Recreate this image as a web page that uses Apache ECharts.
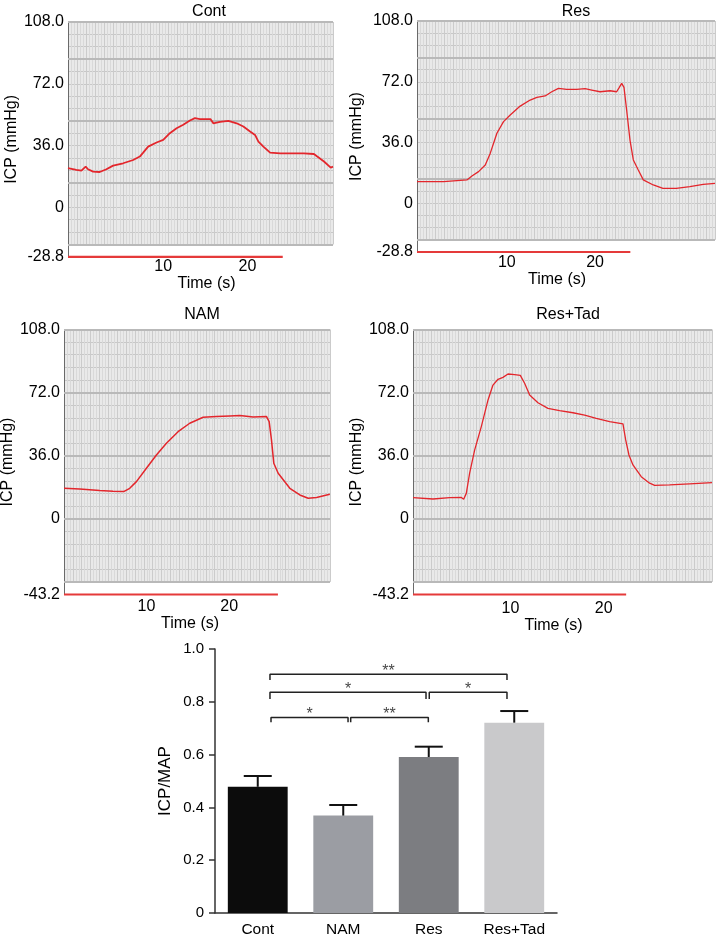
<!DOCTYPE html>
<html><head><meta charset="utf-8">
<script src="https://cdn.jsdelivr.net/npm/echarts@6/dist/echarts.min.js"></script>
<style>html,body{margin:0;padding:0;background:#fff}#c{width:717px;height:941px}</style>
</head><body><div id="c"></div>
<script>
// ---------------- DATA ----------------
const contTime = [-1.31,-0.32,0.28,0.79,1.07,1.67,2.46,3.25,4.05,5.24,6.43,7.22,7.62,8.21,9.21,10.0,10.79,11.59,12.38,13.17,13.77,14.36,15.15,15.63,15.95,16.75,17.74,18.73,19.52,20.32,20.91,21.31,21.9,22.7,23.9,25.5,26.7,27.9,28.3,29.1,29.9,30.17];
const contICP  = [22.8,21.8,21.4,23.7,22.2,20.8,20.6,22.2,24.3,25.7,27.6,29.6,31.9,35.4,37.8,39.3,43.2,46.1,48.1,50.6,52.0,51.4,51.4,51.4,49.0,49.8,50.4,49.0,47.1,44.2,42.2,38.3,35.4,31.9,31.5,31.5,31.5,31.1,29.6,26.7,23.2,23.7];

const resTime = [-0.19,2.83,5.47,6.04,6.79,7.55,8.11,8.87,9.62,10.38,11.51,12.64,13.4,14.34,15.09,15.85,16.79,17.92,18.87,19.62,20.57,21.7,22.45,22.75,23.02,23.28,23.58,23.96,24.34,24.9,25.47,26.6,27.7,29.2,30.75,32.26,33.6];
const resICP  = [12.9,12.9,13.9,16.2,18.8,22.7,29.6,41.5,48.4,52.3,57.6,61.2,62.8,63.6,66.1,68.1,67.5,67.5,67.9,67.1,66.1,66.7,66.1,68.7,71.1,68.7,55.3,37.5,25.7,19.8,13.9,10.9,8.9,8.9,9.9,11.3,11.9];

const namTime = [0.02,1.92,4.34,5.95,7.24,7.97,8.78,9.99,11.2,12.41,13.82,15.23,16.85,18.46,20.08,21.29,22.9,24.52,24.84,25.12,25.4,25.93,27.34,28.55,29.56,30.57,32.18];
const namICP  = [17.4,17.0,16.1,15.7,15.5,17.4,21.2,28.8,36.4,43.1,49.7,54.5,57.9,58.3,58.7,58.9,58.1,58.3,55.4,45.0,31.7,26.0,17.4,13.6,11.7,12.2,14.0];

const tadTime = [-0.44,1.70,3.49,4.74,4.99,5.27,5.63,6.17,6.88,7.60,8.13,8.67,9.2,9.74,10.45,11.06,11.52,12.06,12.95,14.02,15.27,16.7,17.95,19.2,20.63,22.06,22.35,22.7,23.13,24.02,24.92,25.45,27.06,29.2,31.6];
const tadICP  = [12.1,11.3,12.1,12.2,11.1,14.5,26.0,39.3,52.6,67.8,76.3,79.6,80.7,82.6,82.2,81.8,77.3,70.6,66.2,63.0,61.7,60.5,59.2,57.3,55.4,54.1,45.0,36.4,30.7,24.0,20.3,19.1,19.3,19.9,20.6];

const panelTitles = ['Cont','Res','NAM','Res+Tad'];
const yTickLabelsTop = [-28.8, 0, 36, 72, 108];
const yTickLabelsBottom = [-43.2, 0, 36, 72, 108];
const xTickLabels = [10, 20];
const timeBarEnds = [24.2, 24.0, 25.9, 22.4];

const barCategories = ['Cont','NAM','Res','Res+Tad'];
const barMeans = [0.478, 0.369, 0.591, 0.721];
const barUpper = [0.519, 0.409, 0.630, 0.765];
const barColors = ['#0c0c0c','#9b9da3','#7c7d81','#c9c9cb'];

const bracketStart = [0.143, 0.143, 2.006, 0.155, 1.087];
const bracketEnd   = [2.915, 1.968, 2.915, 1.056, 1.995];
const bracketY     = [0.904, 0.836, 0.836, 0.741, 0.741];
const bracketLegY  = [0.883, 0.811, 0.811, 0.723, 0.723];
const bracketText  = ['**', '*', '*', '*', '**'];

// ---------------- LAYOUT ----------------
const FONT = 'Liberation Sans, Arial, Helvetica, sans-serif';
const panels = [
  {time: contTime, icp: contICP, yMin: -28.8, labels: yTickLabelsTop, xMin: -1.31, xMax: 30.17,
   left: 68, top: 22, width: 265, bottom: 256.8, lw: 1.8, bgMax: 29,
   titleX: 209, titleY: 12, yGap: 48, xGap: 18, xShift: 6, lblMargin: 2},
  {time: resTime, icp: resICP, yMin: -28.8, labels: yTickLabelsTop, xMin: -0.19, xMax: 33.6,
   left: 417, top: 21, width: 298, bottom: 252, lw: 1.3, bgMax: 33,
   titleX: 576, titleY: 12, yGap: 52, xGap: 17, xShift: -9, lblMargin: 3},
  {time: namTime, icp: namICP, yMin: -43.2, labels: yTickLabelsBottom, xMin: 0.02, xMax: 32.2,
   left: 64, top: 329.5, width: 266, bottom: 594.5, lw: 1.5, bgMax: 30,
   titleX: 202, titleY: 315, yGap: 44, xGap: 17, xShift: -7, lblMargin: 4},
  {time: tadTime, icp: tadICP, yMin: -43.2, labels: yTickLabelsBottom, xMin: -0.44, xMax: 31.6,
   left: 413, top: 329.5, width: 299, bottom: 594.5, lw: 1.3, bgMax: 33,
   titleX: 568, titleY: 315, yGap: 48, xGap: 21, xShift: -9, lblMargin: 6}
];

const grid = [], xAxis = [], yAxis = [], series = [], graphic = [];
const hidden = {axisLine:{show:false}, axisTick:{show:false}, axisLabel:{show:false}};

panels.forEach((p, i) => {
  const h = p.bottom - p.top;
  const k = h / (108 - p.yMin);
  const bgBottomVal = p.yMin + 7.2;
  const bgBottomPx = p.bottom - 7.2 * k;
  // background chart-paper grid
  const gBg = grid.length;
  grid.push({left: p.left, top: p.top, width: p.width, height: bgBottomPx - p.top,
    show: true, backgroundColor: '#e9e9e9', borderWidth: 0, outerBoundsMode: 'none'});
  const xBg = xAxis.length;
  xAxis.push(Object.assign({type: 'value', gridIndex: gBg, min: 0, max: p.bgMax, interval: 1,
    splitLine: {show: true, lineStyle: {color: '#cbcbcb', width: 1}},
    minorTick: {show: false, splitNumber: 3},
    minorSplitLine: {show: true, lineStyle: {color: '#d9d9d9', width: 1}}, z: 0}, hidden));
  const yBg1 = yAxis.length;
  yAxis.push(Object.assign({type: 'value', gridIndex: gBg, min: bgBottomVal, max: 108, interval: 7.2,
    splitLine: {show: true, lineStyle: {color: '#c8c8c8', width: 1}}, z: 0}, hidden));
  const yBg2 = yAxis.length;
  yAxis.push(Object.assign({type: 'value', gridIndex: gBg, min: bgBottomVal, max: 108, interval: 36, position: 'right',
    splitLine: {show: true, lineStyle: {color: '#b9b9b9', width: 2}}, z: 1}, hidden));
  series.push({type: 'line', xAxisIndex: xBg, yAxisIndex: yBg1, data: [], silent: true});

  // data grid
  const gD = grid.length;
  grid.push({left: p.left, top: p.top, width: p.width, height: h, outerBoundsMode: 'none'});
  const xD = xAxis.length;
  xAxis.push({type: 'value', gridIndex: gD, min: p.xMin, max: p.xMax,
    axisLine: {show: false, onZero: false}, axisTick: {show: false}, splitLine: {show: false},
    axisLabel: {customValues: xTickLabels, margin: p.lblMargin, color: '#000', fontSize: 16, fontFamily: FONT},
    name: 'Time (s)', nameLocation: 'middle', nameGap: p.xGap,
    nameTextStyle: {color: '#000', fontSize: 16, fontFamily: FONT,
      padding: p.xShift >= 0 ? [0, 0, 0, 2 * p.xShift] : [0, -2 * p.xShift, 0, 0]}});
  const yD = yAxis.length;
  yAxis.push({type: 'value', gridIndex: gD, min: p.yMin, max: 108,
    axisLine: {show: true, onZero: false, lineStyle: {color: '#6a6a6a', width: 1}}, axisTick: {show: false}, splitLine: {show: false},
    axisLabel: {customValues: p.labels, margin: 4, color: '#000', fontSize: 16, fontFamily: FONT,
      formatter: v => (Math.abs(v) < 1e-9 ? '0' : Number(v).toFixed(1))},
    name: 'ICP (mmHg)', nameLocation: 'middle', nameGap: p.yGap, nameRotate: 90,
    nameTextStyle: {color: '#000', fontSize: 16, fontFamily: FONT}});
  series.push({type: 'line', xAxisIndex: xD, yAxisIndex: yD, showSymbol: false, symbol: 'none',
    data: p.time.map((t, j) => [t, p.icp[j]]), lineStyle: {color: '#e3262c', width: p.lw}, z: 3, silent: true});
  // red time bar along the bottom
  series.push({type: 'line', xAxisIndex: xD, yAxisIndex: yD, symbol: 'none', clip: false,
    data: [[p.xMin, p.yMin], [timeBarEnds[i], p.yMin]], lineStyle: {color: '#e53a3a', width: 2.2}, z: 3, silent: true});
  graphic.push({type: 'text', x: p.titleX, y: p.titleY,
    style: {text: panelTitles[i], fill: '#000', font: '16px ' + FONT, align: 'center', verticalAlign: 'middle'}});
});

// ---------------- BAR CHART ----------------
const gBar = grid.length;
grid.push({left: 215, top: 649, width: 342, height: 264, outerBoundsMode: 'none'});
const xBar = xAxis.length;
xAxis.push({type: 'category', gridIndex: gBar, data: barCategories,
  axisLine: {onZero: false, lineStyle: {color: '#333', width: 1.5}},
  axisTick: {alignWithLabel: true, length: 5, lineStyle: {color: '#333', width: 1.5}},
  axisLabel: {color: '#000', fontSize: 15.5, fontFamily: FONT, margin: 9}});
const xBr = xAxis.length;
xAxis.push({type: 'value', gridIndex: gBar, min: -0.5, max: 3.5, show: false});
const yBar = yAxis.length;
yAxis.push({type: 'value', gridIndex: gBar, min: 0, max: 1, interval: 0.2,
  axisLine: {show: true, onZero: false, lineStyle: {color: '#333', width: 1.5}},
  axisTick: {show: true, length: 6, lineStyle: {color: '#333', width: 1.5}},
  splitLine: {show: false},
  axisLabel: {color: '#000', fontSize: 15, fontFamily: FONT, margin: 11,
    formatter: v => (v === 0 ? '0' : v.toFixed(1))},
  name: 'ICP/MAP', nameLocation: 'middle', nameGap: 41, nameRotate: 90,
  nameTextStyle: {color: '#000', fontSize: 17, fontFamily: FONT}});

series.push({type: 'bar', xAxisIndex: xBar, yAxisIndex: yBar, barWidth: '70%',
  data: barMeans.map((v, i) => ({value: v, itemStyle: {color: barColors[i]}})), z: 2, silent: true});

series.push({type: 'custom', xAxisIndex: xBar, yAxisIndex: yBar, z: 4, silent: true,
  data: barMeans.map((m, i) => [i, m, barUpper[i]]),
  renderItem: (params, api) => {
    const p0 = api.coord([api.value(0), api.value(1)]);
    const p1 = api.coord([api.value(0), api.value(2)]);
    const st = {stroke: '#111', lineWidth: 2};
    return {type: 'group', children: [
      {type: 'line', shape: {x1: p0[0], y1: p0[1], x2: p1[0], y2: p1[1]}, style: st},
      {type: 'line', shape: {x1: p1[0] - 14, y1: p1[1], x2: p1[0] + 14, y2: p1[1]}, style: st}
    ]};
  }});

bracketStart.forEach((s, i) => {
  const e = bracketEnd[i];
  series.push({type: 'line', xAxisIndex: xBr, yAxisIndex: yBar, symbol: 'none', silent: true, z: 4,
    data: [[s, bracketLegY[i]], [s, bracketY[i]], [e, bracketY[i]], [e, bracketLegY[i]]],
    lineStyle: {color: '#222', width: 1.5}});
});
series.push({type: 'scatter', xAxisIndex: xBr, yAxisIndex: yBar, symbolSize: 0, silent: true, z: 5,
  data: bracketStart.map((s, i) => ({value: [(s + bracketEnd[i]) / 2, bracketY[i]], name: bracketText[i]})),
  label: {show: true, position: 'top', distance: -5, formatter: d => d.name,
    color: '#111', fontSize: 16, fontFamily: FONT}});

const chart = echarts.init(document.getElementById('c'), null, {renderer: 'canvas'});
chart.setOption({animation: false, backgroundColor: '#fff', grid, xAxis, yAxis, series, graphic});
</script></body></html>
